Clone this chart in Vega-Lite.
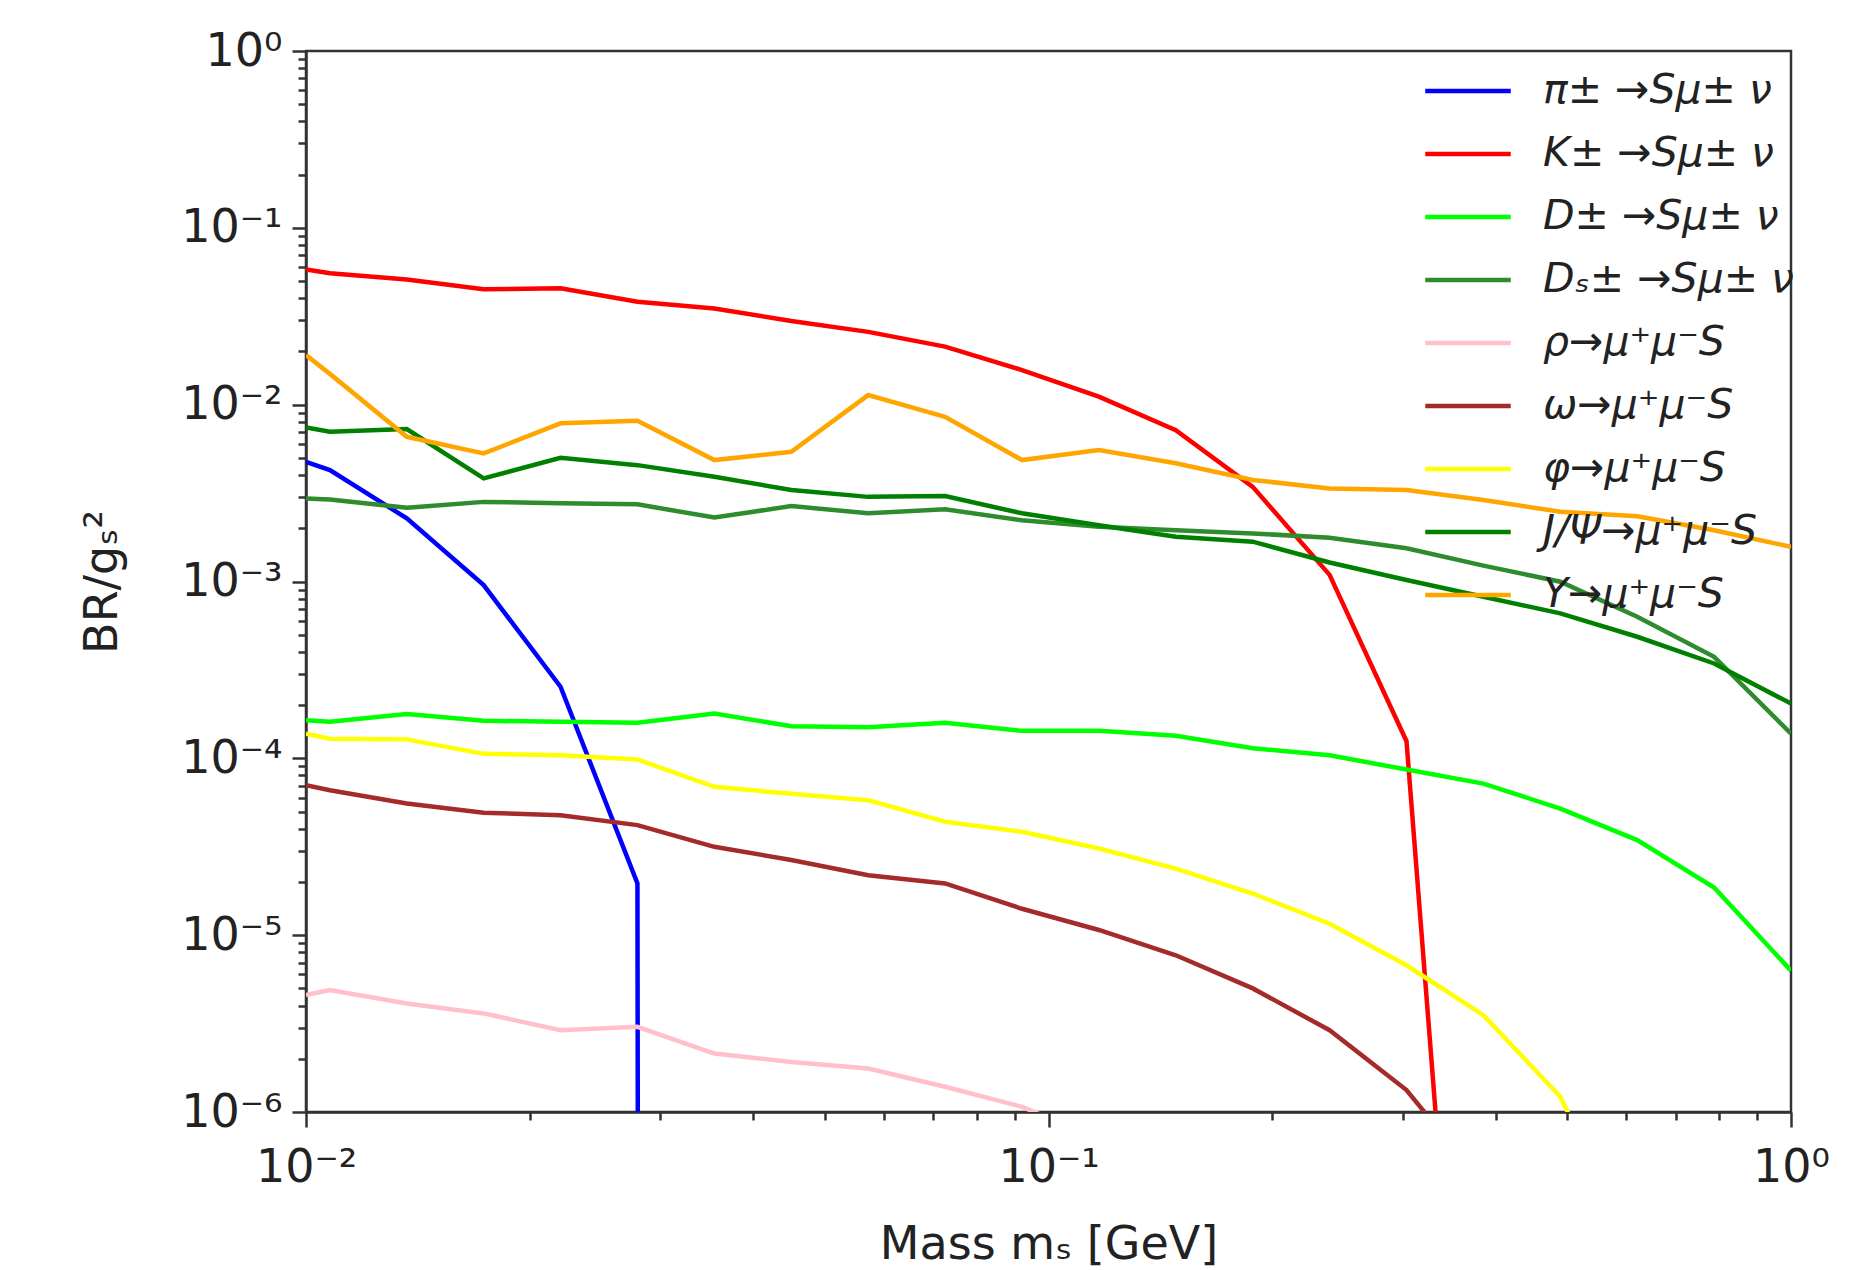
{
  "$schema": "https://vega.github.io/schema/vega-lite/v6.json",
  "width": 1485,
  "height": 1061,
  "autosize": {"type": "none"},
  "padding": {"left": 306, "top": 51, "right": 63, "bottom": 158},
  "background": "white",
  "config": {
    "view": {"stroke": "#333333", "strokeWidth": 2.5},
    "font": "DejaVu Sans",
    "axis": {
      "grid": false, "domainColor": "#333333", "domainWidth": 2.5,
      "tickColor": "#333333", "tickWidth": 2.5,
      "labelFont": "DejaVu Sans", "labelFontSize": 46, "labelColor": "#222222",
      "titleFont": "DejaVu Sans", "titleFontSize": 46, "titleColor": "#222222", "titleFontWeight": "normal",
      "labelOverlap": false, "labelFlush": false
    },
    "legend": {
      "orient": "none", "legendX": 1131, "legendY": 9, "padding": 0, "offset": 0,
      "labelFont": "DejaVu Sans", "labelFontSize": 41, "labelFontStyle": "italic", "labelColor": "#222222",
      "labelOffset": 44, "rowPadding": 12, "labelLimit": 600,
      "symbolType": "M-1.5,0H1.5", "symbolSize": 3249, "symbolStrokeWidth": 4.5, "symbolFillColor": "transparent"
    }
  },
  "data": {"values": [
    {"s":"π± →Sμ± ν","m":0.01,"v":0.00475},{"s":"π± →Sμ± ν","m":0.01077,"v":0.00427},{"s":"π± →Sμ± ν","m":0.01367,"v":0.002275},{"s":"π± →Sμ± ν","m":0.01735,"v":0.000954},{"s":"π± →Sμ± ν","m":0.02202,"v":0.000254},{"s":"π± →Sμ± ν","m":0.02795,"v":1.96e-5},{"s":"π± →Sμ± ν","m":0.03548,"v":1e-300},
    {"s":"K± →Sμ± ν","m":0.01,"v":0.0582},{"s":"K± →Sμ± ν","m":0.01077,"v":0.0553},{"s":"K± →Sμ± ν","m":0.01367,"v":0.0511},{"s":"K± →Sμ± ν","m":0.01735,"v":0.0449},{"s":"K± →Sμ± ν","m":0.02202,"v":0.0455},{"s":"K± →Sμ± ν","m":0.02795,"v":0.0382},{"s":"K± →Sμ± ν","m":0.03548,"v":0.035},{"s":"K± →Sμ± ν","m":0.04504,"v":0.0297},{"s":"K± →Sμ± ν","m":0.05717,"v":0.0258},{"s":"K± →Sμ± ν","m":0.07256,"v":0.0213},{"s":"K± →Sμ± ν","m":0.09211,"v":0.0157},{"s":"K± →Sμ± ν","m":0.1169,"v":0.0111},{"s":"K± →Sμ± ν","m":0.1484,"v":0.00718},{"s":"K± →Sμ± ν","m":0.1884,"v":0.00343},{"s":"K± →Sμ± ν","m":0.2391,"v":0.00109},{"s":"K± →Sμ± ν","m":0.3035,"v":0.000125},{"s":"K± →Sμ± ν","m":0.3852,"v":3.5e-10},
    {"s":"D± →Sμ± ν","m":0.01,"v":0.000164},{"s":"D± →Sμ± ν","m":0.01077,"v":0.000161},{"s":"D± →Sμ± ν","m":0.01367,"v":0.000178},{"s":"D± →Sμ± ν","m":0.01735,"v":0.000163},{"s":"D± →Sμ± ν","m":0.02202,"v":0.000161},{"s":"D± →Sμ± ν","m":0.02795,"v":0.000159},{"s":"D± →Sμ± ν","m":0.03548,"v":0.000179},{"s":"D± →Sμ± ν","m":0.04504,"v":0.000152},{"s":"D± →Sμ± ν","m":0.05717,"v":0.00015},{"s":"D± →Sμ± ν","m":0.07256,"v":0.000159},{"s":"D± →Sμ± ν","m":0.09211,"v":0.000143},{"s":"D± →Sμ± ν","m":0.1169,"v":0.000143},{"s":"D± →Sμ± ν","m":0.1484,"v":0.000134},{"s":"D± →Sμ± ν","m":0.1884,"v":0.000114},{"s":"D± →Sμ± ν","m":0.2391,"v":0.000104},{"s":"D± →Sμ± ν","m":0.3035,"v":8.65e-5},{"s":"D± →Sμ± ν","m":0.3852,"v":7.2e-5},{"s":"D± →Sμ± ν","m":0.489,"v":5.2e-5},{"s":"D± →Sμ± ν","m":0.6207,"v":3.45e-5},{"s":"D± →Sμ± ν","m":0.7878,"v":1.86e-5},{"s":"D± →Sμ± ν","m":1.0,"v":6.3e-6},
    {"s":"Dₛ± →Sμ± ν","m":0.01,"v":0.00295},{"s":"Dₛ± →Sμ± ν","m":0.01077,"v":0.00291},{"s":"Dₛ± →Sμ± ν","m":0.01367,"v":0.00261},{"s":"Dₛ± →Sμ± ν","m":0.01735,"v":0.00282},{"s":"Dₛ± →Sμ± ν","m":0.02202,"v":0.00277},{"s":"Dₛ± →Sμ± ν","m":0.02795,"v":0.00273},{"s":"Dₛ± →Sμ± ν","m":0.03548,"v":0.0023},{"s":"Dₛ± →Sμ± ν","m":0.04504,"v":0.00267},{"s":"Dₛ± →Sμ± ν","m":0.05717,"v":0.00243},{"s":"Dₛ± →Sμ± ν","m":0.07256,"v":0.00256},{"s":"Dₛ± →Sμ± ν","m":0.09211,"v":0.00222},{"s":"Dₛ± →Sμ± ν","m":0.1169,"v":0.00204},{"s":"Dₛ± →Sμ± ν","m":0.1484,"v":0.00195},{"s":"Dₛ± →Sμ± ν","m":0.1884,"v":0.00187},{"s":"Dₛ± →Sμ± ν","m":0.2391,"v":0.00177},{"s":"Dₛ± →Sμ± ν","m":0.3035,"v":0.00154},{"s":"Dₛ± →Sμ± ν","m":0.3852,"v":0.00123},{"s":"Dₛ± →Sμ± ν","m":0.489,"v":0.000997},{"s":"Dₛ± →Sμ± ν","m":0.6207,"v":0.000632},{"s":"Dₛ± →Sμ± ν","m":0.7878,"v":0.000375},{"s":"Dₛ± →Sμ± ν","m":1.0,"v":0.000138},
    {"s":"ρ→μ⁺μ⁻S","m":0.01,"v":4.58e-6},{"s":"ρ→μ⁺μ⁻S","m":0.01077,"v":4.89e-6},{"s":"ρ→μ⁺μ⁻S","m":0.01367,"v":4.11e-6},{"s":"ρ→μ⁺μ⁻S","m":0.01735,"v":3.61e-6},{"s":"ρ→μ⁺μ⁻S","m":0.02202,"v":2.9e-6},{"s":"ρ→μ⁺μ⁻S","m":0.02795,"v":3.03e-6},{"s":"ρ→μ⁺μ⁻S","m":0.03548,"v":2.14e-6},{"s":"ρ→μ⁺μ⁻S","m":0.04504,"v":1.92e-6},{"s":"ρ→μ⁺μ⁻S","m":0.05717,"v":1.76e-6},{"s":"ρ→μ⁺μ⁻S","m":0.07256,"v":1.39e-6},{"s":"ρ→μ⁺μ⁻S","m":0.09211,"v":1.07e-6},{"s":"ρ→μ⁺μ⁻S","m":0.1169,"v":7e-7},{"s":"ρ→μ⁺μ⁻S","m":0.1484,"v":4e-7},
    {"s":"ω→μ⁺μ⁻S","m":0.01,"v":7.05e-5},{"s":"ω→μ⁺μ⁻S","m":0.01077,"v":6.6e-5},{"s":"ω→μ⁺μ⁻S","m":0.01367,"v":5.55e-5},{"s":"ω→μ⁺μ⁻S","m":0.01735,"v":4.92e-5},{"s":"ω→μ⁺μ⁻S","m":0.02202,"v":4.77e-5},{"s":"ω→μ⁺μ⁻S","m":0.02795,"v":4.19e-5},{"s":"ω→μ⁺μ⁻S","m":0.03548,"v":3.16e-5},{"s":"ω→μ⁺μ⁻S","m":0.04504,"v":2.66e-5},{"s":"ω→μ⁺μ⁻S","m":0.05717,"v":2.18e-5},{"s":"ω→μ⁺μ⁻S","m":0.07256,"v":1.96e-5},{"s":"ω→μ⁺μ⁻S","m":0.09211,"v":1.41e-5},{"s":"ω→μ⁺μ⁻S","m":0.1169,"v":1.07e-5},{"s":"ω→μ⁺μ⁻S","m":0.1484,"v":7.7e-6},{"s":"ω→μ⁺μ⁻S","m":0.1884,"v":5e-6},{"s":"ω→μ⁺μ⁻S","m":0.2391,"v":2.9e-6},{"s":"ω→μ⁺μ⁻S","m":0.3035,"v":1.33e-6},{"s":"ω→μ⁺μ⁻S","m":0.3852,"v":3.9e-7},{"s":"ω→μ⁺μ⁻S","m":0.489,"v":2e-8},
    {"s":"φ→μ⁺μ⁻S","m":0.01,"v":0.000138},{"s":"φ→μ⁺μ⁻S","m":0.01077,"v":0.000129},{"s":"φ→μ⁺μ⁻S","m":0.01367,"v":0.000128},{"s":"φ→μ⁺μ⁻S","m":0.01735,"v":0.000106},{"s":"φ→μ⁺μ⁻S","m":0.02202,"v":0.000104},{"s":"φ→μ⁺μ⁻S","m":0.02795,"v":9.85e-5},{"s":"φ→μ⁺μ⁻S","m":0.03548,"v":6.9e-5},{"s":"φ→μ⁺μ⁻S","m":0.04504,"v":6.3e-5},{"s":"φ→μ⁺μ⁻S","m":0.05717,"v":5.8e-5},{"s":"φ→μ⁺μ⁻S","m":0.07256,"v":4.38e-5},{"s":"φ→μ⁺μ⁻S","m":0.09211,"v":3.84e-5},{"s":"φ→μ⁺μ⁻S","m":0.1169,"v":3.09e-5},{"s":"φ→μ⁺μ⁻S","m":0.1484,"v":2.38e-5},{"s":"φ→μ⁺μ⁻S","m":0.1884,"v":1.72e-5},{"s":"φ→μ⁺μ⁻S","m":0.2391,"v":1.16e-5},{"s":"φ→μ⁺μ⁻S","m":0.3035,"v":6.76e-6},{"s":"φ→μ⁺μ⁻S","m":0.3852,"v":3.53e-6},{"s":"φ→μ⁺μ⁻S","m":0.489,"v":1.22e-6},{"s":"φ→μ⁺μ⁻S","m":0.6207,"v":1.5e-7},{"s":"φ→μ⁺μ⁻S","m":0.7878,"v":1e-9},
    {"s":"J/Ψ→μ⁺μ⁻S","m":0.01,"v":0.00744},{"s":"J/Ψ→μ⁺μ⁻S","m":0.01077,"v":0.00703},{"s":"J/Ψ→μ⁺μ⁻S","m":0.01367,"v":0.00728},{"s":"J/Ψ→μ⁺μ⁻S","m":0.01735,"v":0.00383},{"s":"J/Ψ→μ⁺μ⁻S","m":0.02202,"v":0.00501},{"s":"J/Ψ→μ⁺μ⁻S","m":0.02795,"v":0.00455},{"s":"J/Ψ→μ⁺μ⁻S","m":0.03548,"v":0.00391},{"s":"J/Ψ→μ⁺μ⁻S","m":0.04504,"v":0.00329},{"s":"J/Ψ→μ⁺μ⁻S","m":0.05717,"v":0.00301},{"s":"J/Ψ→μ⁺μ⁻S","m":0.07256,"v":0.00304},{"s":"J/Ψ→μ⁺μ⁻S","m":0.09211,"v":0.00243},{"s":"J/Ψ→μ⁺μ⁻S","m":0.1169,"v":0.00208},{"s":"J/Ψ→μ⁺μ⁻S","m":0.1484,"v":0.00179},{"s":"J/Ψ→μ⁺μ⁻S","m":0.1884,"v":0.00168},{"s":"J/Ψ→μ⁺μ⁻S","m":0.2391,"v":0.00128},{"s":"J/Ψ→μ⁺μ⁻S","m":0.3035,"v":0.00102},{"s":"J/Ψ→μ⁺μ⁻S","m":0.3852,"v":0.00082},{"s":"J/Ψ→μ⁺μ⁻S","m":0.489,"v":0.00066},{"s":"J/Ψ→μ⁺μ⁻S","m":0.6207,"v":0.000487},{"s":"J/Ψ→μ⁺μ⁻S","m":0.7878,"v":0.000344},{"s":"J/Ψ→μ⁺μ⁻S","m":1.0,"v":0.000204},
    {"s":"Υ→μ⁺μ⁻S","m":0.01,"v":0.01908},{"s":"Υ→μ⁺μ⁻S","m":0.01077,"v":0.01493},{"s":"Υ→μ⁺μ⁻S","m":0.01367,"v":0.00658},{"s":"Υ→μ⁺μ⁻S","m":0.01735,"v":0.0053},{"s":"Υ→μ⁺μ⁻S","m":0.02202,"v":0.00784},{"s":"Υ→μ⁺μ⁻S","m":0.02795,"v":0.00811},{"s":"Υ→μ⁺μ⁻S","m":0.03548,"v":0.00486},{"s":"Υ→μ⁺μ⁻S","m":0.04504,"v":0.00542},{"s":"Υ→μ⁺μ⁻S","m":0.05717,"v":0.01133},{"s":"Υ→μ⁺μ⁻S","m":0.07256,"v":0.00854},{"s":"Υ→μ⁺μ⁻S","m":0.09211,"v":0.00486},{"s":"Υ→μ⁺μ⁻S","m":0.1169,"v":0.00554},{"s":"Υ→μ⁺μ⁻S","m":0.1484,"v":0.00466},{"s":"Υ→μ⁺μ⁻S","m":0.1884,"v":0.00375},{"s":"Υ→μ⁺μ⁻S","m":0.2391,"v":0.00336},{"s":"Υ→μ⁺μ⁻S","m":0.3035,"v":0.00329},{"s":"Υ→μ⁺μ⁻S","m":0.3852,"v":0.00289},{"s":"Υ→μ⁺μ⁻S","m":0.489,"v":0.00248},{"s":"Υ→μ⁺μ⁻S","m":0.6207,"v":0.00234},{"s":"Υ→μ⁺μ⁻S","m":0.7878,"v":0.00195},{"s":"Υ→μ⁺μ⁻S","m":1.0,"v":0.00157}
  ]},
  "mark": {"type": "line", "strokeWidth": 4.5, "clip": true},
  "encoding": {
    "x": {
      "field": "m", "type": "quantitative",
      "scale": {"type": "log", "domain": [0.01, 1], "nice": false},
      "axis": {
        "values": [0.01,0.02,0.03,0.04,0.05,0.06,0.07,0.08,0.09,0.1,0.2,0.3,0.4,0.5,0.6,0.7,0.8,0.9,1],
        "labelExpr": "abs(log(datum.value)/LN10 - round(log(datum.value)/LN10)) < 0.001 ? '10' + (round(log(datum.value)/LN10) < 0 ? '⁻' : '') + ['⁰','¹','²','³','⁴','⁵','⁶'][abs(round(log(datum.value)/LN10))] : ''",
        "tickSize": {"condition": {"test": "abs(log(datum.value)/LN10 - round(log(datum.value)/LN10)) < 0.001", "value": 15}, "value": 8},
        "labelPadding": 18,
        "title": "Mass mₛ [GeV]",
        "titlePadding": 32
      }
    },
    "y": {
      "field": "v", "type": "quantitative",
      "scale": {"type": "log", "domain": [1e-6, 1], "nice": false},
      "axis": {
        "values": [1e-6,2e-6,3e-6,4e-6,5e-6,6e-6,7e-6,8e-6,9e-6,1e-5,2e-5,3e-5,4e-5,5e-5,6e-5,7e-5,8e-5,9e-5,1e-4,2e-4,3e-4,4e-4,5e-4,6e-4,7e-4,8e-4,9e-4,0.001,0.002,0.003,0.004,0.005,0.006,0.007,0.008,0.009,0.01,0.02,0.03,0.04,0.05,0.06,0.07,0.08,0.09,0.1,0.2,0.3,0.4,0.5,0.6,0.7,0.8,0.9,1],
        "labelExpr": "abs(log(datum.value)/LN10 - round(log(datum.value)/LN10)) < 0.001 ? '10' + (round(log(datum.value)/LN10) < 0 ? '⁻' : '') + ['⁰','¹','²','³','⁴','⁵','⁶'][abs(round(log(datum.value)/LN10))] : ''",
        "tickSize": {"condition": {"test": "abs(log(datum.value)/LN10 - round(log(datum.value)/LN10)) < 0.001", "value": 14}, "value": 8},
        "labelPadding": 10,
        "title": "BR/gₛ²",
        "titlePadding": 54
      }
    },
    "color": {
      "field": "s", "type": "nominal",
      "scale": {
        "domain": ["π± →Sμ± ν","K± →Sμ± ν","D± →Sμ± ν","Dₛ± →Sμ± ν","ρ→μ⁺μ⁻S","ω→μ⁺μ⁻S","φ→μ⁺μ⁻S","J/Ψ→μ⁺μ⁻S","Υ→μ⁺μ⁻S"],
        "range": ["#0000ff","#ff0000","#00ff00","#2e8b2e","#ffc0cb","#a52a2a","#ffff00","#008000","#ffa500"]
      },
      "legend": {"title": null}
    },
    "order": {"field": "m", "type": "quantitative"}
  }
}
